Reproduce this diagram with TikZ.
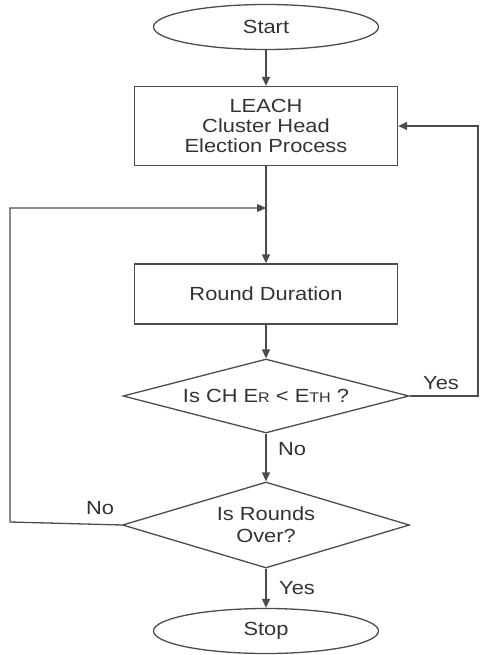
\documentclass[tikz,border=0pt]{standalone}
\usepackage{fontspec}
\setmainfont{Liberation Sans}[FakeStretch=1.15]
\usetikzlibrary{shapes.geometric,arrows.meta}

\tikzset{
	flowline/.style={draw=black!70, line width=1.3pt},
	flowarrow/.style={flowline, -{Triangle[length=9pt,width=8pt]}},
	terminal/.style={ellipse, flowline, text=black!80, minimum width=225pt,
			minimum height=45pt, inner sep=0pt},
	process/.style={rectangle, flowline, text=black!80, minimum width=263pt,
			align=center, inner sep=0pt},
	decision/.style={diamond, flowline, text=black!80, align=center,
			inner sep=0pt},
	edgelabel/.style={text=black!80, inner sep=0pt},
}

\begin{document}
\begin{tikzpicture}[x=1pt, y=-1pt, font=\fontsize{19}{20}\selectfont]
			% Column of the main flow and the two loop lines
			\pgfmathsetmacro{\colX}{266}
			\pgfmathsetmacro{\rightX}{478}
			\pgfmathsetmacro{\leftX}{10}

			\useasboundingbox (0,0) rectangle (479,655);

			% Flow nodes, top to bottom
			\node[terminal] (start) at (\colX,27) {Start};
			\node[process, minimum height=79pt] (leach) at (\colX,126)
			{LEACH\\Cluster Head\\Election Process};
			\node[process, minimum height=60pt] (round) at (\colX,294)
			{Round Duration};
			\node[decision, aspect=3.9, minimum width=286pt, minimum height=74pt]
			(check) at (\colX,396)
			{Is CH E{\fontsize{14}{14}\selectfont R} <
				E{\fontsize{14}{14}\selectfont TH} ?};
			\node[decision, aspect=3.3, minimum width=287pt, minimum height=86pt,
				font=\fontsize{19}{22}\selectfont] (rounds) at (\colX,525)
			{Is Rounds\\Over?};
			\node[terminal] (stop) at (\colX,631) {Stop};

			% Branch labels
			\node[edgelabel] (yesloop) at (441,383) {Yes};
			\node[edgelabel] (nocheck) at (292,449) {No};
			\node[edgelabel] (noloop) at (100,508) {No};
			\node[edgelabel] (yesstop) at (297,588) {Yes};

			% Main flow
			\draw[flowarrow] (start) -- (leach);
			\draw[flowarrow] (leach) -- (round);
			\draw[flowarrow] (round) -- (check);
			\draw[flowarrow] (check) -- (rounds);
			\draw[flowarrow] (rounds) -- (stop);

			% Loops back
			\coordinate (rightturn) at (\rightX,396);
			\draw[flowarrow] (check.east) -- (rightturn) |- (leach.east);
			\coordinate (leftturn) at (\leftX,522);
			\coordinate (merge) at (\colX,208);
			\draw[flowarrow] (rounds.west) -- (leftturn) |- (merge);
		\end{tikzpicture}
\end{document}
